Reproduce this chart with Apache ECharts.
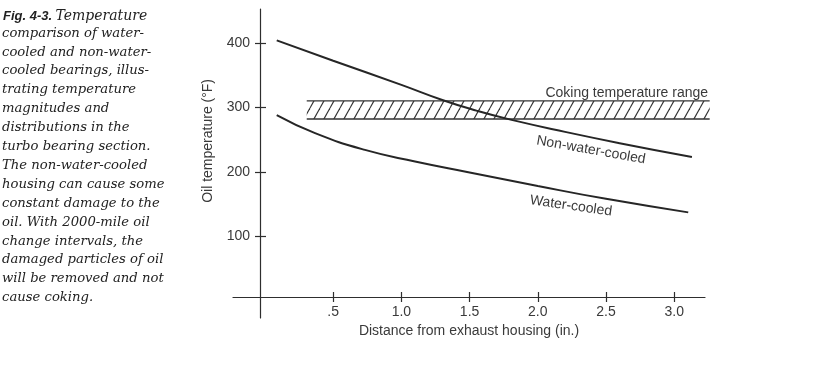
<!DOCTYPE html>
<html>
<head>
<meta charset="utf-8">
<script src="https://cdn.jsdelivr.net/npm/echarts@6/dist/echarts.min.js"></script>
<style>html,body{margin:0;padding:0;background:#fff}#c{width:813px;height:384px}</style>
</head>
<body>
<div id="c"></div>
<script>
// ---- data ----
const nonWaterX = [0.086, 0.5, 1.0, 1.3, 1.55, 1.8, 2.2, 2.6, 3.13];
const nonWaterY = [404, 372.5, 335, 311.5, 295, 281, 262, 244.5, 223];
const waterX = [0.086, 0.367, 0.733, 1.10, 1.50, 2.00, 2.50, 3.103];
const waterY = [288, 260, 234, 216, 199, 178, 158, 137];
const bandX = [0.306, 3.26];
const bandY = [282, 310];
const xTickValues = [0.5, 1.0, 1.5, 2.0, 2.5, 3.0];
const xTickLabels = ['.5', '1.0', '1.5', '2.0', '2.5', '3.0'];
const yTickValues = [100, 200, 300, 400];
const yTickLabels = ['100', '200', '300', '400'];
const captionLines = [
  'comparison of water-',
  'cooled and non-water-',
  'cooled bearings, illus-',
  'trating temperature',
  'magnitudes and',
  'distributions in the',
  'turbo bearing section.',
  'The non-water-cooled',
  'housing can cause some',
  'constant damage to the',
  'oil. With 2000-mile oil',
  'change intervals, the',
  'damaged particles of oil',
  'will be removed and not',
  'cause coking.'
];

const chart = echarts.init(document.getElementById('c'), null, {renderer: 'canvas'});
const axisColor = '#2e2e2e';
const textColor = '#3a3a3a';
const sans = '"Liberation Sans", Arial, sans-serif';
const fs = 14;

// hatch pattern
const pc = document.createElement('canvas');
pc.width = 10; pc.height = 18;
const g = pc.getContext('2d');
g.strokeStyle = '#333'; g.lineWidth = 1.1;
for (const off of [-10, 0, 10]) {
  g.beginPath(); g.moveTo(off, 18); g.lineTo(off + 10, 0); g.stroke();
}

const xMin = -0.2346, xMax = 3.2258, yMin = -27, yMax = 452.8;
const xAxisBase = {
  type: 'value', min: xMin, max: xMax, position: 'bottom', offset: -21,
  splitLine: {show: false}
};
const yAxisBase = {
  type: 'value', min: yMin, max: yMax, position: 'left', offset: -27,
  splitLine: {show: false}
};

const option = {
  animation: false,
  backgroundColor: '#fff',
  grid: {left: 233, right: 108, top: 9, bottom: 66, containLabel: false},
  xAxis: [
    Object.assign({}, xAxisBase, {
      axisLine: {show: true, onZero: false, lineStyle: {color: axisColor, width: 1.2}},
      axisTick: {show: true, length: 5, customValues: xTickValues, lineStyle: {color: axisColor, width: 1.2}},
      axisLabel: {show: true, margin: 8, customValues: xTickValues, color: textColor, fontSize: fs, fontFamily: sans,
        formatter: v => xTickLabels[xTickValues.findIndex(t => Math.abs(t - v) < 1e-6)]},
      name: 'Distance from exhaust housing (in.)', nameLocation: 'middle', nameGap: 24,
      nameTextStyle: {color: textColor, fontSize: fs, fontFamily: sans}
    }),
    Object.assign({}, xAxisBase, {
      axisLine: {show: false, onZero: false},
      axisTick: {show: true, inside: true, length: 5, customValues: xTickValues, lineStyle: {color: axisColor, width: 1.2}},
      axisLabel: {show: false}
    })
  ],
  yAxis: [
    Object.assign({}, yAxisBase, {
      axisLine: {show: true, onZero: false, lineStyle: {color: axisColor, width: 1.2}},
      axisTick: {show: true, length: 5, customValues: yTickValues, lineStyle: {color: axisColor, width: 1.2}},
      axisLabel: {show: true, margin: 10, customValues: yTickValues, color: textColor, fontSize: fs, fontFamily: sans,
        formatter: v => yTickLabels[yTickValues.findIndex(t => Math.abs(t - v) < 1e-6)]}
    }),
    Object.assign({}, yAxisBase, {
      axisLine: {show: false, onZero: false},
      axisTick: {show: true, inside: true, length: 6, customValues: yTickValues, lineStyle: {color: axisColor, width: 1.2}},
      axisLabel: {show: false}
    })
  ],
  series: [
    {
      type: 'custom', xAxisIndex: 0, yAxisIndex: 0, clip: false, silent: true,
      data: [[bandX[0], bandY[0], bandX[1], bandY[1]]],
      renderItem: function (params, api) {
        const p1 = api.coord([api.value(0), api.value(3)]);
        const p2 = api.coord([api.value(2), api.value(1)]);
        return {
          type: 'group',
          children: [
            {type: 'rect', shape: {x: p1[0], y: p1[1], width: p2[0] - p1[0], height: p2[1] - p1[1]},
              style: {fill: {image: pc, repeat: 'repeat'}, stroke: null}},
            {type: 'line', shape: {x1: p1[0], y1: p1[1], x2: p2[0], y2: p1[1]}, style: {stroke: '#333', lineWidth: 1.3}},
            {type: 'line', shape: {x1: p1[0], y1: p2[1], x2: p2[0], y2: p2[1]}, style: {stroke: '#333', lineWidth: 1.3}}
          ]
        };
      }
    },
    {
      name: 'Non-water-cooled', type: 'line', smooth: 0.5, showSymbol: false, clip: false,
      data: nonWaterX.map((x, i) => [x, nonWaterY[i]]),
      lineStyle: {color: '#262626', width: 2}
    },
    {
      name: 'Water-cooled', type: 'line', smooth: 0.5, showSymbol: false, clip: false,
      data: waterX.map((x, i) => [x, waterY[i]]),
      lineStyle: {color: '#262626', width: 2}
    }
  ]
};
chart.setOption(option);

function px(x, y) { return chart.convertToPixel({xAxisIndex: 0, yAxisIndex: 0}, [x, y]); }
const pCoke = px(3.248, 322.8);
const pNon = px(2.39, 233.9);
const pWat = px(2.243, 146.9);
const pYName = px(-0.418, 248);

const serif = '"DejaVu Serif", serif';
chart.setOption({
  graphic: [
    {type: 'text', x: pCoke[0], y: pCoke[1], style: {text: 'Coking temperature range', fill: textColor, font: fs + 'px ' + sans, align: 'right', verticalAlign: 'middle'}},
    {type: 'text', x: pNon[0], y: pNon[1], rotation: -10 * Math.PI / 180, style: {text: 'Non-water-cooled', fill: textColor, font: fs + 'px ' + sans, align: 'center', verticalAlign: 'middle'}},
    {type: 'text', x: pWat[0], y: pWat[1], rotation: -8 * Math.PI / 180, style: {text: 'Water-cooled', fill: textColor, font: fs + 'px ' + sans, align: 'center', verticalAlign: 'middle'}},
    {type: 'text', x: pYName[0], y: pYName[1], rotation: Math.PI / 2, style: {text: 'Oil temperature (°F)', fill: textColor, font: fs + 'px ' + sans, align: 'center', verticalAlign: 'middle'}},
    {type: 'text', x: 3, y: 16, style: {
      rich: {
        b: {font: 'italic bold 13px ' + sans, fill: '#222'},
        s: {font: 'italic 14px ' + serif, fill: '#222'}
      },
      text: '{b|Fig. 4-3.} {s|Temperature}', verticalAlign: 'middle'}},
    {type: 'text', x: 2, y: 33.3 - 9.5, style: {text: captionLines.join('\n'), font: 'italic 13.2px ' + serif, fill: '#222', lineHeight: 18.9, verticalAlign: 'top'}}
  ]
});
</script>
</body>
</html>
